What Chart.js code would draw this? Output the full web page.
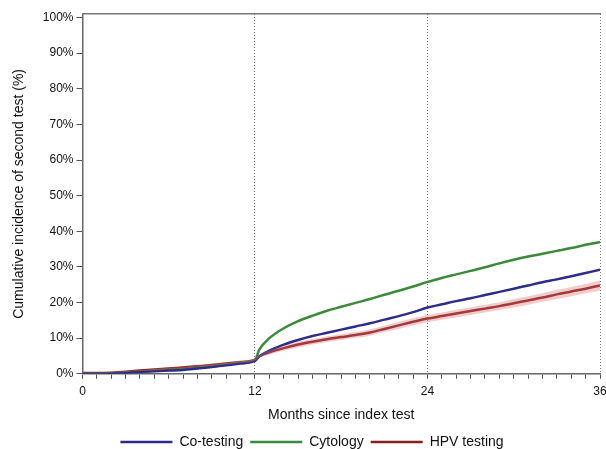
<!DOCTYPE html>
<html>
<head>
<meta charset="utf-8">
<script src="https://cdn.jsdelivr.net/npm/chart.js@4"></script>
<style>
  html, body { margin: 0; padding: 0; background: #fff; }
  #wrap { width: 606px; height: 449px; }
</style>
</head>
<body>
<div id="wrap"><canvas id="chart"></canvas></div>
<script>
const months = [0, 1, 2, 3, 4, 5, 6, 7, 8, 9, 10, 11, 12, 12.3, 13, 14, 15, 16, 17, 18, 19, 20, 21, 22, 23, 24, 25, 26, 27, 28, 29, 30, 31, 32, 33, 34, 35, 36];

const coTesting = [0, 0, 0.1, 0.3, 0.5, 0.7, 0.9, 1.1, 1.5, 1.9, 2.4, 2.9, 3.6, 4.9, 6.5, 8.2, 9.5, 10.6, 11.5, 12.4, 13.3, 14.2, 15.2, 16.2, 17.3, 18.6, 19.5, 20.4, 21.2, 22.1, 23.0, 23.9, 24.8, 25.7, 26.5, 27.4, 28.3, 29.2];
const cytology = [0, 0, 0.1, 0.4, 0.6, 0.9, 1.1, 1.3, 1.7, 2.1, 2.6, 3.1, 3.9, 6.8, 10.0, 12.8, 14.8, 16.3, 17.7, 18.8, 19.9, 21.0, 22.2, 23.3, 24.5, 25.8, 26.9, 27.9, 28.9, 29.9, 31.0, 32.0, 32.9, 33.7, 34.5, 35.3, 36.2, 37.0];
const hpvTesting = [0.2, 0.2, 0.3, 0.6, 0.9, 1.2, 1.5, 1.8, 2.1, 2.5, 2.9, 3.3, 4.0, 4.9, 6.0, 7.2, 8.2, 9.0, 9.7, 10.3, 10.9, 11.6, 12.6, 13.6, 14.6, 15.5, 16.2, 16.9, 17.6, 18.3, 19.0, 19.8, 20.6, 21.4, 22.3, 23.1, 23.9, 24.8];
const hpvLow = [0.1, 0.1, 0.2, 0.5, 0.8, 1.0, 1.3, 1.6, 1.9, 2.2, 2.6, 3.0, 3.6, 4.4, 5.4, 6.5, 7.4, 8.2, 8.9, 9.5, 10.1, 10.7, 11.7, 12.6, 13.6, 14.5, 15.2, 15.8, 16.5, 17.2, 17.9, 18.6, 19.4, 20.2, 21.0, 21.8, 22.6, 23.4];
const hpvHigh = [0.3, 0.3, 0.4, 0.7, 1.0, 1.4, 1.7, 2.0, 2.3, 2.8, 3.2, 3.6, 4.4, 5.4, 6.6, 7.9, 9.0, 9.8, 10.5, 11.1, 11.7, 12.5, 13.5, 14.6, 15.6, 16.5, 17.2, 18.0, 18.7, 19.4, 20.1, 21.0, 21.8, 22.6, 23.6, 24.4, 25.2, 26.2];

const seriesNames = ['Co-testing', 'Cytology', 'HPV testing'];
const seriesColors = ['#2c2c8a', '#3a8a3a', '#8a1e1e'];
const xTickLabels = [0, 12, 24, 36];
const yTickValues = [0, 10, 20, 30, 40, 50, 60, 70, 80, 90, 100];

const toPoints = arr => arr.map((v, i) => ({ x: months[i], y: v }));

const lineDs = (label, data, color) => ({
  label,
  data: toPoints(data),
  borderColor: color,
  backgroundColor: color,
  borderWidth: 2.5,
  pointRadius: 0,
  cubicInterpolationMode: 'monotone',
  fill: false
});

const ctx = document.getElementById('chart').getContext('2d');
new Chart(ctx, {
  type: 'line',
  data: {
    datasets: [
      {
        label: 'band-low',
        data: toPoints(hpvLow),
        borderWidth: 0,
        pointRadius: 0,
        cubicInterpolationMode: 'monotone',
        fill: false
      },
      {
        label: 'band-high',
        data: toPoints(hpvHigh),
        borderWidth: 0,
        pointRadius: 0,
        cubicInterpolationMode: 'monotone',
        backgroundColor: 'rgba(215, 110, 110, 0.35)',
        fill: '-1'
      },
      lineDs(seriesNames[0], coTesting, seriesColors[0]),
      lineDs(seriesNames[1], cytology, seriesColors[1]),
      lineDs(seriesNames[2], hpvTesting, seriesColors[2])
    ]
  },
  options: {
    responsive: true,
    maintainAspectRatio: false,
    animation: false,
    layout: { padding: { left: 11, right: -7, top: 14, bottom: -10 } },
    plugins: {
      tooltip: { enabled: false },
      legend: {
        position: 'bottom',
        labels: {
          filter: item => !item.text.startsWith('band'),
          usePointStyle: true,
          pointStyle: 'line',
          pointStyleWidth: 52,
          color: '#111',
          padding: 7,
          font: { family: 'Liberation Sans', size: 14 }
        }
      }
    },
    scales: {
      x: {
        type: 'linear',
        min: 0,
        max: 36,
        // let the last label run off the edge, as in the original
        afterFit: axis => { axis.paddingRight = 6; },
        ticks: {
          stepSize: 1,
          autoSkip: false,
          maxRotation: 0,
          color: '#111',
          padding: 6,
          font: { family: 'Liberation Sans', size: 12 },
          callback: v => xTickLabels.includes(v) ? String(v) : ''
        },
        grid: {
          color: c => (c.tick && c.tick.value > 0 && c.tick.value % 12 === 0) ? '#777' : 'rgba(0,0,0,0)',
          tickColor: '#555',
          tickLength: 5,
          tickBorderDash: [],
          lineWidth: 1
        },
        border: { color: '#666', width: 1.5, dash: [1, 2] },
        title: {
          display: true,
          text: 'Months since index test',
          color: '#111',
          font: { family: 'Liberation Sans', size: 14 },
          padding: { top: 2, bottom: 4 }
        }
      },
      y: {
        min: 0,
        max: 101,
        afterBuildTicks: axis => { axis.ticks = yTickValues.map(v => ({ value: v })); },
        ticks: {
          color: '#111',
          padding: 3,
          font: { family: 'Liberation Sans', size: 12 },
          callback: v => v + '%'
        },
        grid: {
          drawOnChartArea: false,
          tickColor: '#555',
          tickLength: 6
        },
        border: { color: '#666', width: 1.5 },
        title: {
          display: true,
          text: 'Cumulative incidence of second test (%)',
          color: '#111',
          font: { family: 'Liberation Sans', size: 14 },
          padding: { top: 0, bottom: 12 }
        }
      },
      x2: {
        type: 'linear',
        position: 'top',
        min: 0,
        max: 36,
        ticks: { display: false },
        grid: { display: false, drawTicks: false },
        border: { color: '#777', width: 1.5 }
      }
    }
  }
});
</script>
</body>
</html>
